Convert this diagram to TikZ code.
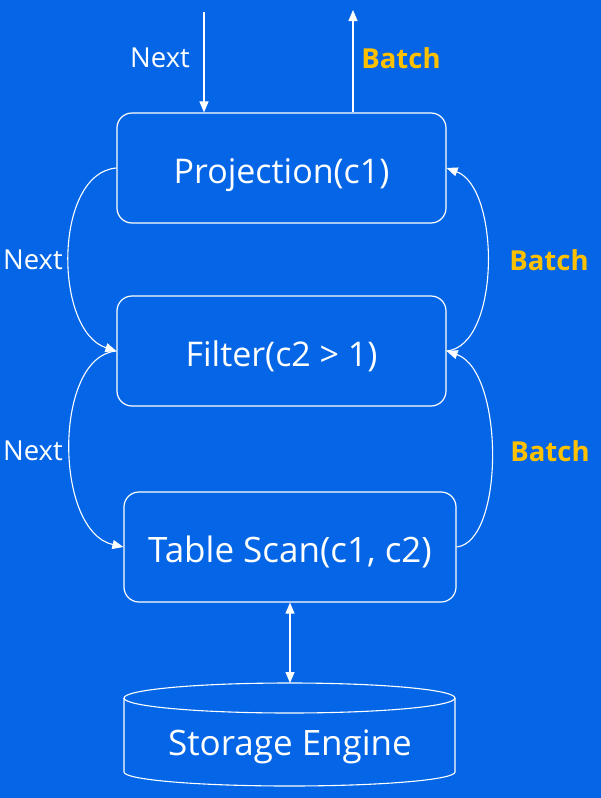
\documentclass[tikz,border=0pt]{standalone}
\usepackage{fontspec}
\setmainfont{Open Sans}
\usetikzlibrary{arrows.meta}
\definecolor{bg}{HTML}{0466E6}
\definecolor{batchc}{HTML}{FFC000}
\begin{document}
\begin{tikzpicture}[x=1pt,y=-1pt,
  box/.style={draw=white,line width=1.2pt,rounded corners=15pt,text=white,font=\fontsize{34}{38}\selectfont,inner sep=0pt,text height=30pt,text depth=0pt},
  conn/.style={white,line width=1.1pt,-{Triangle[length=11pt,width=9pt]}},
  nextlbl/.style={text=white,font=\fontsize{27.5}{30}\selectfont},
  batchlbl/.style={text=batchc,font=\fontsize{27.5}{30}\selectfont\bfseries}]
\fill[bg] (0,0) rectangle (601,798);
\useasboundingbox (0,0) rectangle (601,798);
\node[box,minimum width=329pt,minimum height=110pt] (proj) at (281.5,168) {Projection(c1)};
\node[box,minimum width=329pt,minimum height=110pt] (filt) at (281.5,351) {Filter(c2 > 1)};
\node[box,minimum width=332pt,minimum height=110pt,font=\fontsize{35}{38}\selectfont] (scan) at (290,547) {Table Scan(c1, c2)};
% top arrows
\coordinate (nextTop) at (204,12);
\coordinate (batchTop) at (353,10);
\draw[conn] (nextTop) -- (nextTop |- proj.north);
\draw[conn] (batchTop |- proj.north) -- (batchTop);
\node[nextlbl] (n0) at (160,58) {Next};
\node[batchlbl] (b0) at (401,58) {Batch};
% left curves
\draw[conn] (proj.west) .. controls +(-63,5) and +(-63,-20) .. (filt.west);
\draw[conn] (filt.west) .. controls +(-63,5) and +(-70,-16) .. (scan.west);
\node[nextlbl] (n1) at (33,260) {Next};
\node[nextlbl] (n2) at (33,451) {Next};
% right curves
\draw[conn] (filt.east) .. controls +(54,-5) and +(54,20) .. (proj.east);
\draw[conn] (scan.east) .. controls +(48,-5) and +(58,20) .. (filt.east);
\node[batchlbl] (b1) at (549,260) {Batch};
\node[batchlbl] (b2) at (550,451) {Batch};
% cylinder
\draw[white,line width=1.1pt] (124,698) -- (124,772) arc[start angle=180,end angle=360,x radius=165.5pt,y radius=14pt] -- (455,698);
\draw[white,line width=1.1pt] (289.5,698) ellipse[x radius=165.5pt,y radius=15pt];
\coordinate (stTop) at (290,683);
\node[text=white,font=\fontsize{35}{38}\selectfont] (store) at (290,747) {Storage Engine};
\draw[white,line width=1.1pt,{Triangle[length=11pt,width=9pt]}-{Triangle[length=11pt,width=9pt]}] (scan.south) -- (stTop);
\end{tikzpicture}
\end{document}
